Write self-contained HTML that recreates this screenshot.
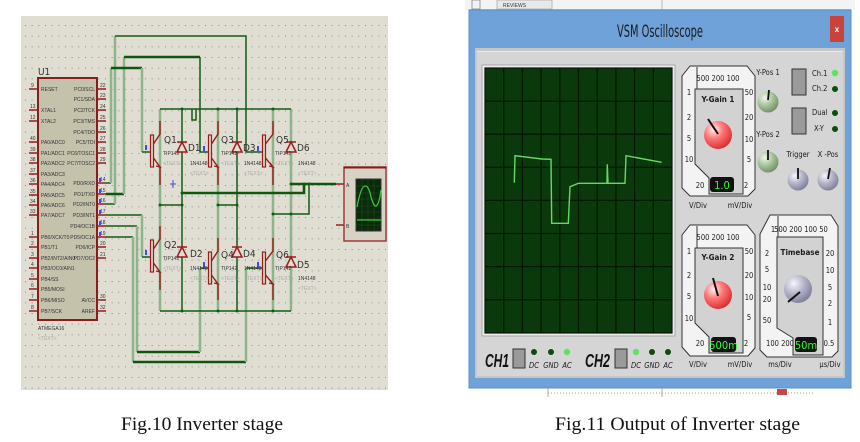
<!DOCTYPE html>
<html><head><meta charset="utf-8">
<style>
html,body{margin:0;padding:0;background:#fff;}
body{width:860px;height:442px;overflow:hidden;}
svg{display:block;}
.l{stroke:#8cb589;stroke-width:2.5;fill:none;}
.d{stroke:#135d13;stroke-width:1.5;fill:none;}
.dt{stroke:#0f560f;stroke-width:2.6;fill:none;}
.r{stroke:#9a1c1c;stroke-width:1.4;fill:none;}
.tiny{font-family:"Liberation Sans",sans-serif;font-size:5px;fill:#333;}
.tg{font-family:"Liberation Sans",sans-serif;font-size:5px;fill:#aaa;}
.ql{font-family:"Liberation Sans Narrow","DejaVu Sans Condensed","Liberation Sans",sans-serif;font-size:10px;fill:#333;}
.ct{font-family:"Liberation Sans Narrow","DejaVu Sans Condensed","Liberation Sans",sans-serif;font-size:7.5px;fill:#1a1a1a;}
.cb{font-family:"Liberation Sans Narrow","DejaVu Sans Condensed","Liberation Sans",sans-serif;font-size:8px;font-weight:bold;fill:#1a1a1a;}
.disp{font-family:"Liberation Sans Narrow","DejaVu Sans Condensed","Liberation Sans",sans-serif;font-size:11px;fill:#3f3;}
.cap{font-family:"Liberation Serif",serif;font-size:19px;fill:#111;}
.outer{fill:#f3f3f3;stroke:#333;stroke-width:1;}
.inner{fill:#d2d2d2;stroke:#333;stroke-width:1;}
</style></head>
<body>
<svg width="860" height="442" viewBox="0 0 860 442" xmlns="http://www.w3.org/2000/svg">
<defs>
<pattern id="dots" x="25" y="25" width="6.667" height="10.667" patternUnits="userSpaceOnUse">
<rect width="1" height="1" fill="#8d8b82"/>
</pattern>
<radialGradient id="gr" cx="0.35" cy="0.3" r="0.75">
<stop offset="0" stop-color="#fff0f0"/><stop offset="0.45" stop-color="#f77"/><stop offset="1" stop-color="#d82a2a"/>
</radialGradient>
<radialGradient id="gg" cx="0.35" cy="0.3" r="0.75">
<stop offset="0" stop-color="#f0f8ec"/><stop offset="0.5" stop-color="#a8c49c"/><stop offset="1" stop-color="#6d8f63"/>
</radialGradient>
<radialGradient id="gb" cx="0.35" cy="0.3" r="0.75">
<stop offset="0" stop-color="#f6f6fc"/><stop offset="0.5" stop-color="#b4b4c8"/><stop offset="1" stop-color="#7c7c98"/>
</radialGradient>
</defs>

<!-- ================= LEFT PANEL ================= -->
<rect x="21" y="16" width="367" height="374" fill="#e0ddd3"/>
<rect x="21" y="16" width="367" height="374" fill="url(#dots)"/>

<!-- MCU -->
<text x="38" y="75" class="ql" fill="#555">U1</text>
<rect x="38" y="78" width="59" height="242" fill="#c5c2ac" stroke="#8b1c1c" stroke-width="2"/>
<g class="r" stroke-width="1.6">
<path d="M29 89H38M29 110H38M29 121H38M29 142H38M29 153H38M29 163H38M29 174H38M29 184H38M29 195H38M29 205H38M29 215H38M29 237H38M29 247H38M29 258H38M29 268H38M29 279H38M29 289H38M29 300H38M29 311H38"/>
<path d="M97 89H106M97 99H106M97 110H106M97 121H106M97 132H106M97 142H106M97 153H106M97 163H106M97 183H106M97 194H106M97 204H106M97 215H106M97 226H106M97 237H106M97 247H106M97 258H106M97 300H106M97 311H106"/>
</g>
<g class="tiny">
<text x="41" y="91">RESET</text><text x="41" y="112">XTAL1</text><text x="41" y="123">XTAL2</text>
<text x="41" y="144">PA0/ADC0</text><text x="41" y="155">PA1/ADC1</text><text x="41" y="165">PA2/ADC2</text>
<text x="41" y="176">PA3/ADC3</text><text x="41" y="186">PA4/ADC4</text><text x="41" y="197">PA5/ADC5</text>
<text x="41" y="207">PA6/ADC6</text><text x="41" y="217">PA7/ADC7</text>
<text x="41" y="239">PB0/XCK/T0</text><text x="41" y="249">PB1/T1</text><text x="41" y="260">PB2/INT2/AIN0</text>
<text x="41" y="270">PB3/OC0/AIN1</text><text x="41" y="281">PB4/SS</text><text x="41" y="291">PB5/MOSI</text>
<text x="41" y="302">PB6/MISO</text><text x="41" y="313">PB7/SCK</text>
</g>
<g class="tiny" text-anchor="end">
<text x="95" y="91">PC0/SCL</text><text x="95" y="101">PC1/SDA</text><text x="95" y="112">PC2/TCK</text>
<text x="95" y="123">PC3/TMS</text><text x="95" y="134">PC4/TDO</text><text x="95" y="144">PC5/TDI</text>
<text x="95" y="155">PC6/TOSC1</text><text x="95" y="165">PC7/TOSC2</text>
<text x="95" y="185">PD0/RXD</text><text x="95" y="196">PD1/TXD</text><text x="95" y="206">PD2/INT0</text>
<text x="95" y="217">PD3/INT1</text><text x="95" y="228">PD4/OC1B</text><text x="95" y="239">PD5/OC1A</text>
<text x="95" y="249">PD6/ICP</text><text x="95" y="260">PD7/OC2</text>
<text x="95" y="302">AVCC</text><text x="95" y="313">AREF</text>
</g>
<g class="tiny">
<text x="31" y="87">9</text><text x="30" y="108">13</text><text x="30" y="119">12</text>
<text x="30" y="140">40</text><text x="30" y="151">39</text><text x="30" y="161">38</text><text x="30" y="172">37</text>
<text x="30" y="182">36</text><text x="30" y="193">35</text><text x="30" y="203">34</text><text x="30" y="213">33</text>
<text x="31" y="235">1</text><text x="31" y="245">2</text><text x="31" y="256">3</text><text x="31" y="266">4</text>
<text x="31" y="277">5</text><text x="31" y="287">6</text><text x="31" y="298">7</text><text x="31" y="309">8</text>
<text x="100" y="87">22</text><text x="100" y="97">23</text><text x="100" y="108">24</text><text x="100" y="119">25</text>
<text x="100" y="130">26</text><text x="100" y="140">27</text><text x="100" y="151">28</text><text x="100" y="161">29</text>
<text x="100" y="181">14</text><text x="100" y="192">15</text><text x="100" y="202">16</text><text x="100" y="213">17</text>
<text x="100" y="224">18</text><text x="100" y="235">19</text><text x="100" y="245">20</text><text x="100" y="256">21</text>
<text x="100" y="298">30</text><text x="100" y="309">32</text>
</g>
<g fill="#3b4bff">
<rect x="99" y="178" width="2" height="4"/><rect x="99" y="189" width="2" height="4"/><rect x="99" y="199" width="2" height="4"/>
<rect x="99" y="210" width="2" height="4"/><rect x="99" y="221" width="2" height="4"/><rect x="99" y="232" width="2" height="4"/>
</g>
<text x="38" y="330" class="tiny">ATMEGA16</text>
<text x="38" y="340" class="tg">&lt;TEXT&gt;</text>

<!-- wires from MCU -->
<path class="d" d="M106 204H115"/>
<path class="l" d="M115 204V36"/>
<path class="d" d="M115 36H246V152H262"/>
<path class="dt" d="M106 194H124"/>
<path class="l" d="M124 194V57"/>
<path class="dt" d="M124 57H200"/>
<path class="d" d="M200 57V152H208"/>
<path class="d" d="M106 183H111"/>
<path class="l" d="M111 183V68"/>
<path class="dt" d="M111 68H142"/>
<path class="l" d="M142 68V152"/>
<path class="d" d="M142 152H151"/>
<path class="d" d="M106 215H142"/>
<path class="l" d="M142 215V257"/>
<path class="d" d="M142 257H151"/>
<path class="d" d="M106 226H137"/>
<path class="l" d="M137 226V352"/>
<path class="dt" d="M137 352H200"/>
<path class="l" d="M200 352V268"/>
<path class="d" d="M200 268H208"/>
<path class="d" d="M106 237H133"/>
<path class="l" d="M133 237V362"/>
<path class="dt" d="M133 362H246"/>
<path class="l" d="M246 362V268"/>
<path class="d" d="M246 268H262"/>

<!-- bridge rails -->
<path class="l" d="M160 109V311"/>
<path class="l" d="M218 109V311"/>
<path class="l" d="M273 109V311"/>
<path class="l" d="M291 109V311"/>
<path class="d" d="M182 109V311"/>
<path class="d" d="M237 109V311"/>
<path class="d" stroke-width="2" d="M160 109H291"/>
<path class="d" d="M192 109V120H196V109"/>
<path class="d" stroke-width="2" d="M160 311H291"/>
<path class="d" stroke-width="2" d="M160 205H182M218 205H237"/>
<path class="dt" d="M182 193H304V184"/>
<path class="dt" d="M291 184H336"/>
<path class="d" stroke-width="2" d="M309 184V214H273"/>
<g fill="#135d13">
<circle cx="182" cy="109" r="1.5"/><circle cx="218" cy="109" r="1.5"/><circle cx="237" cy="109" r="1.5"/><circle cx="273" cy="109" r="1.5"/>
<circle cx="182" cy="311" r="1.5"/><circle cx="218" cy="311" r="1.5"/><circle cx="237" cy="311" r="1.5"/><circle cx="273" cy="311" r="1.5"/>
<circle cx="160" cy="205" r="1.5"/><circle cx="182" cy="205" r="1.5"/><circle cx="218" cy="205" r="1.5"/><circle cx="237" cy="205" r="1.5"/>
<circle cx="182" cy="193" r="1.5"/><circle cx="291" cy="184" r="1.5"/><circle cx="304" cy="184" r="1.5"/><circle cx="309" cy="184" r="1.5"/>
<circle cx="273" cy="214" r="1.5"/><circle cx="291" cy="214" r="1.5"/>
</g>

<!-- transistors -->
<g id="tr">
<g>
<rect x="150.5" y="135" width="3" height="32" fill="#d8d4c4" stroke="#9a1c1c" stroke-width="1.2"/>
<path class="r" d="M153.5 144L160 134V121M153.5 158L160 167V185M157 163L160 167L156 166"/>
</g>
<g>
<rect x="208.5" y="135" width="3" height="32" fill="#d8d4c4" stroke="#9a1c1c" stroke-width="1.2"/>
<path class="r" d="M211.5 144L218 134V121M211.5 158L218 167V185M215 163L218 167L214 166"/>
</g>
<g>
<rect x="262.5" y="135" width="3" height="32" fill="#d8d4c4" stroke="#9a1c1c" stroke-width="1.2"/>
<path class="r" d="M265.5 144L273 134V121M265.5 158L273 167V185M270 163L273 167L269 166"/>
</g>
<g>
<rect x="150.5" y="240" width="3" height="32" fill="#d8d4c4" stroke="#9a1c1c" stroke-width="1.2"/>
<path class="r" d="M153.5 249L160 239V226M153.5 263L160 272V290M157 268L160 272L156 271"/>
</g>
<g>
<rect x="208.5" y="252" width="3" height="32" fill="#d8d4c4" stroke="#9a1c1c" stroke-width="1.2"/>
<path class="r" d="M211.5 261L218 251V238M211.5 275L218 284V300M215 280L218 284L214 283"/>
</g>
<g>
<rect x="262.5" y="252" width="3" height="32" fill="#d8d4c4" stroke="#9a1c1c" stroke-width="1.2"/>
<path class="r" d="M265.5 261L273 251V238M265.5 275L273 284V300M270 280L273 284L269 283"/>
</g>
</g>
<g fill="#3b4bff">
<rect x="145" y="145" width="2" height="5"/><rect x="203" y="146" width="2" height="5"/><rect x="257" y="146" width="2" height="5"/>
<rect x="145" y="250" width="2" height="5"/><rect x="203" y="262" width="2" height="5"/><rect x="257" y="262" width="2" height="5"/>
</g>
<path d="M173 180V188M170 184H176" stroke="#4450d8" stroke-width="1"/>

<!-- diodes -->
<g stroke="#9a1c1c" stroke-width="1.5" fill="#e0ddd3">
<path d="M177 142H187"/><path d="M182 142L177 152H187Z"/>
<path d="M232 142H242"/><path d="M237 142L232 152H242Z"/>
<path d="M286 142H296"/><path d="M291 142L286 152H296Z"/>
<path d="M177 247H187"/><path d="M182 247L177 257H187Z"/>
<path d="M232 247H242"/><path d="M237 247L232 257H242Z"/>
<path d="M286 257H296"/><path d="M291 257L286 267H296Z"/>
</g>

<!-- labels -->
<g class="ql">
<text x="164" y="143">Q1</text><text x="188" y="151">D1</text>
<text x="221" y="143">Q3</text><text x="243" y="151">D3</text>
<text x="276" y="143">Q5</text><text x="297" y="151">D6</text>
<text x="164" y="248">Q2</text><text x="190" y="257">D2</text>
<text x="221" y="258">Q4</text><text x="243" y="257">D4</text>
<text x="276" y="258">Q6</text><text x="297" y="268">D5</text>
</g>
<g class="tiny">
<text x="163" y="155">TIP142</text><text x="190" y="165">1N4148</text>
<text x="221" y="155">TIP142</text><text x="244" y="165">1N4148</text>
<text x="275" y="155">TIP142</text><text x="298" y="165">1N4148</text>
<text x="163" y="260">TIP142</text><text x="190" y="270">1N4148</text>
<text x="221" y="270">TIP142</text><text x="244" y="270">1N4148</text>
<text x="275" y="270">TIP142</text><text x="298" y="280">1N4148</text>
</g>
<g class="tg">
<text x="163" y="165">&lt;TEXT&gt;</text><text x="190" y="175">&lt;TEXT&gt;</text>
<text x="221" y="165">&lt;TEXT&gt;</text><text x="244" y="175">&lt;TEXT&gt;</text>
<text x="275" y="165">&lt;TEXT&gt;</text><text x="298" y="175">&lt;TEXT&gt;</text>
<text x="163" y="270">&lt;TEXT&gt;</text><text x="190" y="280">&lt;TEXT&gt;</text>
<text x="221" y="280">&lt;TEXT&gt;</text><text x="244" y="280">&lt;TEXT&gt;</text>
<text x="275" y="280">&lt;TEXT&gt;</text><text x="298" y="290">&lt;TEXT&gt;</text>
</g>

<!-- scope symbol -->
<path class="r" stroke-width="1.5" d="M336 184H344M336 225H344"/>
<rect x="344" y="167" width="42" height="74" fill="#d6d3c4" stroke="#a03a3a" stroke-width="1.5"/>
<path d="M344 167.5H386" stroke="#8b1c1c" stroke-width="2"/>
<rect x="356" y="179" width="25" height="52" fill="#0b2a0b" stroke="#333" stroke-width="1"/>
<g stroke="#1d4d1d" stroke-width="0.6">
<path d="M356 186H381M356 193H381M356 199H381M356 206H381M356 212H381M356 219H381M356 225H381"/>
<path d="M362 179V231M368 179V231M374 179V231"/>
</g>
<path d="M357 207Q361 186 365 186Q369 186 371 197Q374 207 376 206Q379 205 381 190" fill="none" stroke="#3ec43e" stroke-width="1.3"/>
<path d="M357 220H381" stroke="#3ec43e" stroke-width="1.3"/>
<text x="346" y="187" class="tiny">A</text><text x="346" y="228" class="tiny">B</text>

<!-- ================= RIGHT PANEL ================= -->
<rect x="465" y="0" width="390" height="10" fill="#f2f3f5"/>
<path d="M469 9.5H851" stroke="#c8cdd4" stroke-width="1"/>
<rect x="472" y="0" width="8" height="9" fill="none" stroke="#888" stroke-width="0.8"/>
<rect x="497" y="0" width="55" height="9" fill="#e6e8ec" stroke="#aaa" stroke-width="0.8"/>
<text x="503" y="7" class="tiny" fill="#555">REVIEWS</text>
<path d="M662 0V10" stroke="#aaa" stroke-width="0.8"/>

<rect x="469" y="10" width="382" height="378" fill="#6ea2d8"/>
<rect x="469" y="10" width="382" height="378" fill="none" stroke="#5a8fc8" stroke-width="1"/>
<text x="617" y="37" font-family="'Liberation Sans Narrow','DejaVu Sans Condensed','Liberation Sans',sans-serif" font-size="17" fill="#1b1b1b" textLength="86" lengthAdjust="spacingAndGlyphs">VSM Oscilloscope</text>
<rect x="830" y="16" width="14" height="26" fill="#c9433c"/>
<text x="837" y="32" text-anchor="middle" font-family="'Liberation Sans',sans-serif" font-size="8" font-weight="bold" fill="#fff">x</text>

<rect x="475" y="48" width="370" height="330" fill="#c6c6c6"/>
<rect x="477" y="51" width="366" height="325" fill="#d5d5d5"/>
<path d="M477 51.5H843" stroke="#ececec" stroke-width="1"/>

<!-- screen -->
<rect x="482" y="65" width="193" height="271" fill="#ededed" stroke="#a8a8a8" stroke-width="1"/>
<rect x="485" y="68" width="187" height="265" fill="#0a3a0c" stroke="#111" stroke-width="1.2"/>
<g stroke="#031703" stroke-width="1.3">
<path d="M503.7 68V333M522.4 68V333M541.1 68V333M559.8 68V333M578.5 68V333M597.2 68V333M615.9 68V333M634.6 68V333M653.3 68V333"/>
<path d="M485 101.1H672M485 134.2H672M485 167.3H672M485 200.4H672M485 233.5H672M485 266.6H672M485 299.7H672"/>
</g>
<path d="M514.3 182.7L515 155.7L541.7 159L551 159.3L551.7 223.3L568.3 223.3L570 186.7L578.3 183.3L607 183.3L607.3 164.3L608 183.3L625 183.3L626 155.7L661.7 162.3" fill="none" stroke="#66d866" stroke-width="1.4"/>

<!-- Y-Gain 1 -->
<polygon class="outer" points="690,66 747,66 755,76 755,189 748,196 690,196 682,188 682,76"/>
<polygon class="inner" points="695,89 743,89 743,194 709,194 709,178 695,164"/>
<path d="M697 67V89" stroke="#333" stroke-width="1"/>
<g class="ct" text-anchor="middle">
<text x="718" y="81">500 200 100</text>
<text x="689" y="95">1</text><text x="689" y="120">2</text><text x="689" y="141">5</text><text x="689" y="162">10</text>
<text x="749" y="95">50</text><text x="749" y="120">20</text><text x="749" y="142">10</text><text x="749" y="162">5</text>
<text x="746" y="188">2</text><text x="700" y="188">20</text>
<text x="698" y="208">V/Div</text><text x="740" y="208">mV/Div</text>
</g>
<text x="718" y="102" class="cb" text-anchor="middle">Y-Gain 1</text>
<circle cx="718" cy="135" r="14" fill="url(#gr)"/>
<path d="M708 119L718 134" stroke="#111" stroke-width="2"/>
<rect x="710" y="177" width="24" height="15" rx="3" fill="#111"/>
<text x="722" y="189" class="disp" text-anchor="middle">1.0</text>

<!-- Y-Gain 2 -->
<polygon class="outer" points="690,225 747,225 755,235 755,348 748,356 690,356 682,347 682,235"/>
<polygon class="inner" points="695,248 743,248 743,353 709,353 709,337 695,323"/>
<path d="M697 226V248" stroke="#333" stroke-width="1"/>
<g class="ct" text-anchor="middle">
<text x="718" y="240">500 200 100</text>
<text x="689" y="254">1</text><text x="689" y="278">2</text><text x="689" y="299">5</text><text x="689" y="321">10</text>
<text x="749" y="254">50</text><text x="749" y="278">20</text><text x="749" y="300">10</text><text x="749" y="320">5</text>
<text x="746" y="346">2</text><text x="700" y="346">20</text>
<text x="698" y="367">V/Div</text><text x="740" y="367">mV/Div</text>
</g>
<text x="718" y="260" class="cb" text-anchor="middle">Y-Gain 2</text>
<circle cx="718" cy="295" r="14" fill="url(#gr)"/>
<path d="M713 278L718 296" stroke="#111" stroke-width="2"/>
<rect x="711" y="337" width="25" height="15" rx="3" fill="#111"/>
<text x="723.5" y="349" class="disp" text-anchor="middle">500m</text>

<!-- Timebase -->
<polygon class="outer" points="770,215 831,215 838,226 838,351 832,357 767,357 760,350 760,234"/>
<polygon class="inner" points="777,237 823,237 823,355 793,355 793,338 777,328"/>
<path d="M778 216V237" stroke="#333" stroke-width="1"/>
<g class="ct" text-anchor="middle">
<text x="773" y="232">1</text><text x="801" y="232">500 200 100 50</text>
<text x="767" y="256">2</text><text x="767" y="272">5</text><text x="767" y="290">10</text><text x="767" y="302">20</text><text x="767" y="323">50</text>
<text x="780" y="346">100 200</text>
<text x="830" y="256">20</text><text x="830" y="273">10</text><text x="830" y="290">5</text><text x="830" y="306">2</text><text x="830" y="325">1</text><text x="829" y="346">0.5</text>
<text x="780" y="367">ms/Div</text><text x="830" y="367">µs/Div</text>
</g>
<text x="800" y="255" class="cb" text-anchor="middle">Timebase</text>
<circle cx="798" cy="289" r="14" fill="url(#gb)"/>
<path d="M800 292L788 302" stroke="#111" stroke-width="2"/>
<rect x="795" y="337" width="22" height="15" rx="3" fill="#111"/>
<text x="806" y="349" class="disp" text-anchor="middle">50m</text>

<!-- Y-Pos knobs -->
<g class="ct" text-anchor="middle">
<text x="768" y="75">Y-Pos 1</text><text x="768" y="137">Y-Pos 2</text>
<text x="798" y="157">Trigger</text><text x="828" y="157">X -Pos</text>
</g>
<circle cx="768" cy="102" r="10.5" fill="url(#gg)"/>
<path d="M769 90L768 100" stroke="#111" stroke-width="1.8"/>
<circle cx="768" cy="162" r="10.5" fill="url(#gg)"/>
<path d="M768 150L768 160" stroke="#111" stroke-width="1.8"/>
<circle cx="798" cy="180" r="10.5" fill="url(#gb)"/>
<path d="M798 168L798 179" stroke="#111" stroke-width="1.8"/>
<circle cx="828" cy="180" r="10.5" fill="url(#gb)"/>
<path d="M830 168L828 179" stroke="#111" stroke-width="1.8"/>

<!-- buttons & leds -->
<rect x="792" y="69" width="14" height="26" fill="#9a9a9a" stroke="#333" stroke-width="1"/>
<rect x="792" y="108" width="14" height="26" fill="#9a9a9a" stroke="#333" stroke-width="1"/>
<g class="ct">
<text x="812" y="76">Ch.1</text><text x="812" y="91">Ch.2</text>
<text x="812" y="115">Dual</text><text x="814" y="131">X-Y</text>
</g>
<circle cx="835" cy="73" r="3.2" fill="#5fe35f"/>
<circle cx="835" cy="89" r="3" fill="#0d4a0d"/>
<circle cx="835" cy="113" r="3" fill="#0d4a0d"/>
<circle cx="835" cy="129" r="3" fill="#0d4a0d"/>

<!-- channel controls bottom -->
<text x="485" y="367" font-family="'Liberation Sans','DejaVu Sans',sans-serif" font-size="18" font-weight="bold" font-style="italic" fill="#111" textLength="24" lengthAdjust="spacingAndGlyphs">CH1</text>
<rect x="513" y="349" width="12" height="19" fill="#9a9a9a" stroke="#333" stroke-width="1"/>
<circle cx="534" cy="352" r="3" fill="#0d4a0d"/>
<circle cx="551" cy="352" r="3" fill="#0d4a0d"/>
<circle cx="567" cy="352" r="3.2" fill="#5fe35f"/>
<text x="585" y="367" font-family="'Liberation Sans','DejaVu Sans',sans-serif" font-size="18" font-weight="bold" font-style="italic" fill="#111" textLength="25" lengthAdjust="spacingAndGlyphs">CH2</text>
<rect x="615" y="349" width="12" height="19" fill="#9a9a9a" stroke="#333" stroke-width="1"/>
<circle cx="636" cy="352" r="3.2" fill="#5fe35f"/>
<circle cx="652" cy="352" r="3" fill="#0d4a0d"/>
<circle cx="668" cy="352" r="3" fill="#0d4a0d"/>
<g class="ct" font-style="italic" font-size="6.5" text-anchor="middle">
<text x="534" y="368">DC</text><text x="551" y="368">GND</text><text x="567" y="368">AC</text>
<text x="636" y="368">DC</text><text x="652" y="368">GND</text><text x="668" y="368">AC</text>
</g>

<!-- strip below window -->
<path d="M548 393H813" stroke="#999" stroke-width="1" stroke-dasharray="1 2"/>
<path d="M548 388V397M662 388V397" stroke="#999" stroke-width="0.8"/>
<rect x="777" y="389" width="10" height="6" fill="#c44"/>

<!-- captions -->
<text x="121" y="430" class="cap" textLength="162" lengthAdjust="spacingAndGlyphs">Fig.10 Inverter stage</text>
<text x="555" y="430" class="cap" textLength="245" lengthAdjust="spacingAndGlyphs">Fig.11 Output of Inverter stage</text>
</svg>
</body></html>
